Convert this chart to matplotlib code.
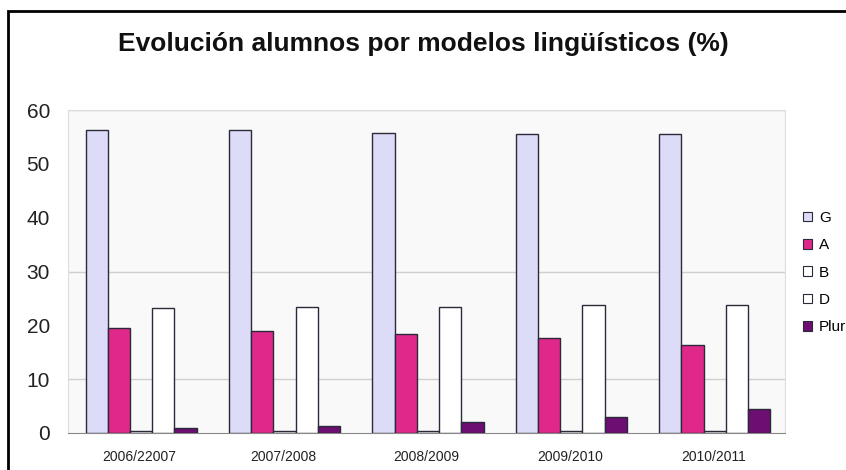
import matplotlib.pyplot as plt
from matplotlib.patches import Rectangle
import numpy as np

plt.rcParams["font.family"] = ["Liberation Sans", "DejaVu Sans"]

cursos = ["2006/22007", "2007/2008", "2008/2009", "2009/2010", "2010/2011"]
modelos = ["G", "A", "B", "D", "Plurilingüe"]
valores_g = [56.3, 56.3, 55.7, 55.6, 55.5]
valores_a = [19.5, 19.0, 18.4, 17.7, 16.3]
valores_b = [0.3, 0.3, 0.3, 0.3, 0.3]
valores_d = [23.2, 23.4, 23.4, 23.8, 23.8]
valores_plur = [1.0, 1.3, 2.1, 3.0, 4.4]
rejilla = [10, 30, 60]

series = [valores_g, valores_a, valores_b, valores_d, valores_plur]
colores = ["#dcdcf8", "#e0288a", "#ffffff", "#ffffff", "#6c0e72"]

fig = plt.figure(figsize=(8.46, 4.70), dpi=100)
fig.patch.set_facecolor("white")

# marco negro alrededor del grafico
fig.patches.append(Rectangle((8 / 846, -0.1), 1.2, 1 - 11 / 470 + 0.1,
                             transform=fig.transFigure, fill=False,
                             edgecolor="black", linewidth=2))

ax = fig.add_axes([68 / 846, 1 - 433 / 470, (785 - 68) / 846, (433 - 110) / 470])
ax.set_facecolor("#f9f9f9")

x = np.arange(len(cursos))
ancho = 0.155
for i, (vals, col) in enumerate(zip(series, colores)):
    ax.bar(x + (i - 2) * ancho + 0.01, vals, ancho, color=col,
           edgecolor="#2a2a3a", linewidth=1.0, label=modelos[i], zorder=3)

for v in rejilla:
    ax.axhline(v, color="#cfcfcf", linewidth=1.0, zorder=1)

ax.set_xlim(-0.5, len(cursos) - 0.5)
ax.set_ylim(0, 60)
ax.set_yticks(range(0, 61, 10))
ax.set_xticks(x)
ax.set_xticklabels(cursos, fontsize=10, color="#222222")
ax.tick_params(axis="y", labelsize=15, colors="#222222", length=0, pad=13)
ax.tick_params(axis="x", length=0, pad=12)

for lado in ["top", "left", "right"]:
    ax.spines[lado].set_color("#dddddd")
    ax.spines[lado].set_linewidth(0.8)
ax.spines["bottom"].set_color("#888888")

fig.text(0.5, 1 - 44 / 470, "Evolución alumnos por modelos lingüísticos (%)",
         ha="center", va="center", fontsize=19, fontweight="bold", color="#111111")

leg = fig.legend(loc="upper left", bbox_to_anchor=(803 / 846, 1 - 211 / 470),
                 frameon=False, fontsize=11, handlelength=0.6, handleheight=0.6,
                 handletextpad=0.45, labelspacing=0.87, borderaxespad=0,
                 borderpad=0)
for h in leg.legend_handles:
    h.set_linewidth(0.8)

fig.savefig("out.png", dpi=100)
